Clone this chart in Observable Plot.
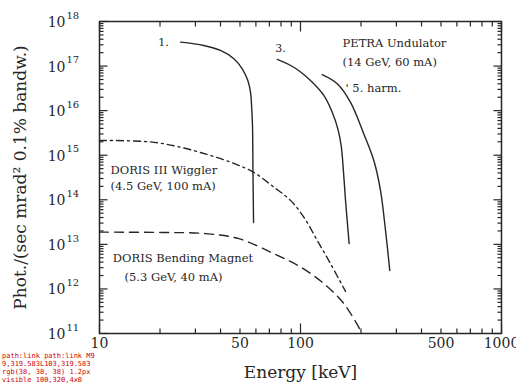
<!DOCTYPE html>
<html><head><meta charset="utf-8">
<script src="https://cdn.jsdelivr.net/npm/d3@7"></script>
<script src="https://cdn.jsdelivr.net/npm/@observablehq/plot@0.6"></script>
<style>
html,body{margin:0;padding:0;background:#fff;}
#dbg{position:absolute;left:2px;top:352px;width:95px;font:7px monospace;color:#c00;word-break:break-all;line-height:8px;}
</style>
</head><body><div id="chart"></div><div id="dbg"></div>
<script>
// PETRA undulator, 1st harmonic
const harm1E = [25.3, 33.0, 40.0, 46.6, 51.3, 54.7, 56.4, 57.2, 57.7, 58.0, 58.4];
const harm1P = [3.44e17, 2.9e17, 2.24e17, 1.46e17, 8.7e16, 4.75e16, 2.6e16, 1.1e16, 4.66e15, 4.6e14, 3.1e13];
// 3rd harmonic
const harm3E = [76.6, 92.6, 112.1, 130.6, 143.8, 153.4, 159.3, 163.7, 167.5, 174.6];
const harm3P = [1.41e17, 9.4e16, 4.75e16, 2.19e16, 9.2e15, 3.9e15, 1.66e15, 4.1e14, 9.7e13, 1.04e13];
// 5th harmonic
const harm5E = [128.2, 152.3, 177.4, 206.5, 231.6, 250.0, 264.8, 278.1];
const harm5P = [6.4e16, 4.0e16, 1.53e16, 3.0e15, 7.6e14, 1.63e14, 2.06e13, 2.6e12];
// DORIS III wiggler
const wigglerE = [10, 17.9, 24.4, 34.3, 46.6, 58.6, 73.6, 89.2, 103.8, 121.1, 141.0, 167.5];
const wigglerP = [2.15e15, 1.99e15, 1.57e15, 1.04e15, 6.55e14, 4.1e14, 1.93e14, 9.7e13, 4.1e13, 1.23e13, 3.7e12, 8.8e11];
// DORIS bending magnet
const bendE = [10, 20.5, 33.7, 49.3, 73.6, 100, 130.6, 164.2, 198.9];
const bendP = [1.88e13, 1.85e13, 1.74e13, 1.34e13, 6.2e12, 3.1e12, 1.32e12, 4.7e11, 1.18e11];

// annotations: harmonic numbers (centred)
const harmLabel = ["1.", "3."];
const harmLabelE = [20.8, 79.5];
const harmLabelP = [3.4e17, 2.5e17];
// annotations: source descriptions (left aligned)
const noteText = ["PETRA Undulator", "(14 GeV, 60 mA)", "' 5. harm.",
  "DORIS III Wiggler", "(4.5 GeV, 100 mA)", "DORIS Bending Magnet", "(5.3 GeV, 40 mA)"];
const noteE = [161.8, 161.8, 167.5, 11.34, 11.34, 11.65, 13.32];
const noteP = [3.2e17, 1.22e17, 3.1e16, 4.7e14, 2.0e14, 4.8e12, 1.8e12];

// axes
const xDomain = [10, 1000];
const yDomain = [1e11, 1e18];
const xMajorTicks = [10, 100, 1000];
const xMinorTicks = [20, 30, 40, 50, 60, 70, 80, 90, 200, 300, 400, 500, 600, 700, 800, 900];
const xTickLabels = [10, 50, 100, 500, 1000];
const yExponents = [11, 12, 13, 14, 15, 16, 17, 18];
const yMultipliers = [2, 3, 4, 5, 6, 7, 8, 9];
const yMajorTicks = yExponents.map(e => Math.pow(10, e));
const yMinorTicks = yExponents.slice(0, -1).flatMap(e => yMultipliers.map(m => m * Math.pow(10, e)));

const xTitle = "Energy [keV]";
const yTitle = "Phot./(sec mrad\u00B2 0.1% bandw.)";

const ink = "#262626";
const font = "DejaVu Serif";

const W = 516, H = 387, ML = 99, MR = 15, MT = 21, MB = 54;
const FW = W - ML - MR, FH = H - MT - MB;
const tickMajY = 8, tickMinY = 4, tickMajX = 10, tickMinX = 5;
const tickW = 1.2;

// tick lengths expressed as factors along the log scales
const pxPerDecX = FW / Math.log10(xDomain[1] / xDomain[0]);
const pxPerDecY = FH / Math.log10(yDomain[1] / yDomain[0]);
const fx = px => Math.pow(10, px / pxPerDecX);
const fy = px => Math.pow(10, px / pxPerDecY);
const linkOpts = {stroke: ink, strokeWidth: tickW};

const tickLinks = [
  Plot.link(yMinorTicks, {...linkOpts, x1: () => xDomain[0], x2: () => xDomain[0] * fx(tickMinY), y1: d => d, y2: d => d}),
  Plot.link(yMajorTicks, {...linkOpts, x1: () => xDomain[0], x2: () => xDomain[0] * fx(tickMajY), y1: d => d, y2: d => d}),
  Plot.link(yMinorTicks, {...linkOpts, x1: () => xDomain[1], x2: () => xDomain[1] / fx(tickMinY), y1: d => d, y2: d => d}),
  Plot.link(yMajorTicks, {...linkOpts, x1: () => xDomain[1], x2: () => xDomain[1] / fx(tickMajY), y1: d => d, y2: d => d}),
  Plot.link(xMinorTicks, {...linkOpts, x1: d => d, x2: d => d, y1: () => yDomain[0], y2: () => yDomain[0] * fy(tickMinX)}),
  Plot.link(xMajorTicks, {...linkOpts, x1: d => d, x2: d => d, y1: () => yDomain[0], y2: () => yDomain[0] * fy(tickMajX)}),
  Plot.link(xMinorTicks, {...linkOpts, x1: d => d, x2: d => d, y1: () => yDomain[1], y2: () => yDomain[1] / fy(tickMinX)}),
  Plot.link(xMajorTicks, {...linkOpts, x1: d => d, x2: d => d, y1: () => yDomain[1], y2: () => yDomain[1] / fy(tickMajX)})
];

const chart = Plot.plot({
  width: W,
  height: H,
  marginLeft: ML,
  marginRight: MR,
  marginTop: MT,
  marginBottom: MB,
  x: {type: "log", domain: xDomain, axis: null},
  y: {type: "log", domain: yDomain, axis: null},
  marks: [
    ...tickLinks,
    Plot.frame({stroke: ink, strokeWidth: 1.5}),
    // tick labels
    Plot.text(yMajorTicks, {y: d => d, frameAnchor: "left", text: () => "10", textAnchor: "end", dx: -34, dy: 1, fontSize: 14, fontFamily: font, fill: ink}),
    Plot.text(yExponents, {y: d => Math.pow(10, d), frameAnchor: "left", text: d => String(d), textAnchor: "start", dx: -33, dy: -6, fontSize: 10, fontFamily: font, fill: ink}),
    Plot.text(xTickLabels, {x: d => d, frameAnchor: "bottom", text: d => String(d), textAnchor: "middle", dy: 14, fontSize: 14, fontFamily: font, fill: ink}),
    // axis titles
    Plot.text([xTitle], {frameAnchor: "bottom", text: d => d, textAnchor: "middle", dy: 44, fontSize: 17, fontFamily: font, fill: ink}),
    Plot.text([yTitle], {frameAnchor: "left", text: d => d, textAnchor: "middle", rotate: -90, dx: -79, fontSize: 17, fontFamily: font, fill: ink}),
    // curves
    Plot.line(harm1E, {x: harm1E, y: harm1P, stroke: ink, strokeWidth: 1.4, curve: "catmull-rom"}),
    Plot.line(harm3E, {x: harm3E, y: harm3P, stroke: ink, strokeWidth: 1.4, curve: "catmull-rom"}),
    Plot.line(harm5E, {x: harm5E, y: harm5P, stroke: ink, strokeWidth: 1.4, curve: "catmull-rom"}),
    Plot.line(wigglerE, {x: wigglerE, y: wigglerP, stroke: ink, strokeWidth: 1.4, strokeDasharray: "7,4,2,4", curve: "catmull-rom"}),
    Plot.line(bendE, {x: bendE, y: bendP, stroke: ink, strokeWidth: 1.4, strokeDasharray: "9,6", curve: "catmull-rom"}),
    // annotations
    Plot.text(harmLabel, {x: harmLabelE, y: harmLabelP, text: harmLabel, textAnchor: "middle", fontSize: 11, fontFamily: font, fill: ink}),
    Plot.text(noteText, {x: noteE, y: noteP, text: noteText, textAnchor: "start", fontSize: 11.5, fontFamily: font, fill: ink})
  ]
});
document.getElementById("chart").appendChild(chart);
try {
  const e1 = document.elementFromPoint(103, 66);
  const e2 = document.elementFromPoint(497, 66);
  const lk = chart.querySelector("g[aria-label='link'] path");
  const cs = lk ? getComputedStyle(lk) : null;
  const r = lk ? lk.getBoundingClientRect() : null;
  document.getElementById("dbg").textContent =
    (e1 ? e1.tagName + ":" + (e1.parentNode.getAttribute && e1.parentNode.getAttribute("aria-label")) : "-") + " " +
    (e2 ? e2.tagName + ":" + (e2.parentNode.getAttribute && e2.parentNode.getAttribute("aria-label")) : "-") + " " +
    (lk ? lk.getAttribute("d") + " " + cs.stroke + " " + cs.strokeWidth + " " + cs.visibility + " " + Math.round(r.x) + "," + Math.round(r.y) + "," + Math.round(r.width) + "x" + Math.round(r.height) : "nolink");
} catch (err) { document.getElementById("dbg").textContent = String(err); }
</script>
</body></html>
